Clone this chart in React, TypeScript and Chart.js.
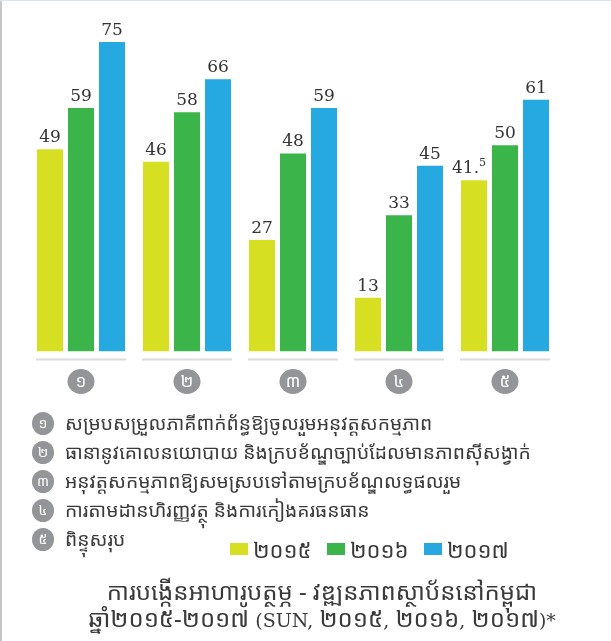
import React, { useEffect, useRef } from "react";
import Chart from "chart.js/auto";

const categories = ["១", "២", "៣", "៤", "៥"];
const years = ["២០១៥", "២០១៦", "២០១៧"];
const values2015 = [49, 46, 27, 13, 41.5];
const values2016 = [59, 58, 48, 33, 50];
const values2017 = [75, 66, 59, 45, 61];
const seriesColors = ["#d7df23", "#3bb54a", "#26a9e0"];
const descriptions = [
  "សម្របសម្រួលភាគីពាក់ព័ន្ធឱ្យចូលរួមអនុវត្តសកម្មភាព",
  "ធានានូវគោលនយោបាយ និងក្របខ័ណ្ឌច្បាប់ដែលមានភាពស៊ីសង្វាក់",
  "អនុវត្តសកម្មភាពឱ្យសមស្របទៅតាមក្របខ័ណ្ឌលទ្ធផលរួម",
  "ការតាមដានហិរញ្ញវត្ថុ និងការកៀងគរធនធាន",
  "ពិន្ទុសរុប",
];
const titleLines = [
  "ការបង្កើនអាហារូបត្ថម្ភ - វឌ្ឍនភាពស្ថាប័ននៅកម្ពុជា",
  "ឆ្នាំ២០១៥-២០១៧ (SUN, ២០១៥, ២០១៦, ២០១៧)*",
];

const KHMER_FONT =
  "'Noto Sans Khmer', 'Khmer OS', 'Khmer OS System', 'Hanuman', 'Battambang', 'DejaVu Sans', sans-serif";
const SERIF_FONT = "'DejaVu Serif', 'Liberation Serif', serif";
const TEXT_COLOR = "#3a3a3a";
const CIRCLE_COLOR = "#939598";

const W = 611;
const H = 641;

function renderMixed(text: string) {
  const parts = text.split(/([A-Za-z(),*]+)/);
  return parts.map((p, i) =>
    /[A-Za-z(),*]/.test(p) ? (
      <span key={i} style={{ fontFamily: SERIF_FONT, fontSize: 19 }}>
        {p}
      </span>
    ) : (
      <span key={i}>{p}</span>
    )
  );
}

export default function App() {
  const canvasRef = useRef<HTMLCanvasElement | null>(null);

  useEffect(() => {
    const canvas = canvasRef.current;
    if (!canvas) return;

    const valueLabels = {
      id: "valueLabels",
      afterDatasetsDraw(chart: any) {
        const ctx = chart.ctx;
        ctx.save();
        ctx.fillStyle = "#333333";
        ctx.textBaseline = "alphabetic";
        chart.data.datasets.forEach((ds: any, di: number) => {
          const meta = chart.getDatasetMeta(di);
          meta.data.forEach((bar: any, i: number) => {
            const v = ds.data[i] as number;
            const x = bar.x;
            const y = bar.y - 7;
            const big = "17px " + SERIF_FONT;
            if (Number.isInteger(v)) {
              ctx.font = big;
              ctx.textAlign = "center";
              ctx.fillText(String(v), x, y);
            } else {
              const parts = String(v).split(".");
              const main = parts[0] + ".";
              const sup = parts[1];
              ctx.font = big;
              const mw = ctx.measureText(main).width;
              ctx.font = "11px " + SERIF_FONT;
              const sw = ctx.measureText(sup).width;
              const start = x - (mw + sw) / 2 - 5;
              ctx.textAlign = "left";
              ctx.font = big;
              ctx.fillText(main, start, y);
              ctx.font = "11px " + SERIF_FONT;
              ctx.fillText(sup, start + mw, y - 7);
            }
          });
        });
        ctx.restore();
      },
    };

    const categoryMarks = {
      id: "categoryMarks",
      afterDraw(chart: any) {
        const ctx = chart.ctx;
        const xs = chart.scales.x;
        ctx.save();
        chart.data.labels.forEach((lab: string, i: number) => {
          const cx = xs.getPixelForValue(i);
          ctx.strokeStyle = "#dcdcdc";
          ctx.lineWidth = 2;
          ctx.beginPath();
          ctx.moveTo(cx - 45, 359.5);
          ctx.lineTo(cx + 45, 359.5);
          ctx.stroke();
          ctx.fillStyle = CIRCLE_COLOR;
          ctx.beginPath();
          ctx.ellipse(cx, 381.5, 13.5, 12.5, 0, 0, Math.PI * 2);
          ctx.fill();
          ctx.fillStyle = "#ffffff";
          ctx.font = "17px " + KHMER_FONT;
          ctx.textAlign = "center";
          ctx.textBaseline = "middle";
          ctx.fillText(lab, cx, 382);
        });
        ctx.restore();
      },
    };

    const chart = new Chart(canvas, {
      type: "bar",
      data: {
        labels: categories,
        datasets: [values2015, values2016, values2017].map((vals, i) => ({
          label: years[i],
          data: vals,
          backgroundColor: seriesColors[i],
          borderWidth: 0,
          categoryPercentage: 0.877,
          barPercentage: 0.84,
        })),
      },
      options: {
        responsive: false,
        animation: false,
        events: [],
        layout: { padding: { left: 28, right: 53, top: 21.4, bottom: H - 351.4 } },
        plugins: {
          legend: { display: false },
          tooltip: { enabled: false },
          title: { display: false },
        },
        scales: {
          x: { display: false, grid: { display: false } },
          y: { display: false, min: 0, max: 80, grid: { display: false } },
        },
      },
      plugins: [valueLabels, categoryMarks],
    });

    return () => chart.destroy();
  }, []);

  return (
    <div
      style={{
        position: "absolute",
        left: 0,
        top: 0,
        width: W,
        height: H,
        background: "#ffffff",
        overflow: "hidden",
      }}
    >
      <canvas
        ref={canvasRef}
        width={W}
        height={H}
        style={{ position: "absolute", left: 0, top: 0, width: W, height: H }}
      />
      <div style={{ position: "absolute", left: 0, top: 0, width: 2, height: H, background: "#c6c6c6" }} />
      <div style={{ position: "absolute", left: 0, top: 0, width: W, height: 1, background: "#dde3ea" }} />
      {descriptions.map((d, i) => (
        <div
          key={i}
          style={{
            position: "absolute",
            left: 32,
            top: 423 + i * 29 - 14,
            height: 28,
            display: "flex",
            alignItems: "center",
            whiteSpace: "nowrap",
          }}
        >
          <div
            style={{
              width: 22,
              height: 23,
              borderRadius: "50%",
              background: CIRCLE_COLOR,
              color: "#fff",
              fontFamily: KHMER_FONT,
              fontSize: 14,
              display: "flex",
              alignItems: "center",
              justifyContent: "center",
              lineHeight: 1,
            }}
          >
            {categories[i]}
          </div>
          <span
            style={{
              marginLeft: 11,
              fontFamily: KHMER_FONT,
              fontSize: 19.3,
              color: TEXT_COLOR,
              lineHeight: "28px",
            }}
          >
            {d}
          </span>
        </div>
      ))}
      {years.map((y, i) => (
        <div
          key={y}
          style={{
            position: "absolute",
            left: 230 + i * 97,
            top: 535,
            height: 28,
            display: "flex",
            alignItems: "center",
            whiteSpace: "nowrap",
          }}
        >
          <div style={{ width: 18, height: 12, background: seriesColors[i] }} />
          <span
            style={{
              marginLeft: 5,
              fontFamily: KHMER_FONT,
              fontSize: 22,
              color: TEXT_COLOR,
              lineHeight: "28px",
            }}
          >
            {y}
          </span>
        </div>
      ))}
      <div
        style={{
          position: "absolute",
          left: 22,
          width: 600,
          top: 577,
          textAlign: "center",
          fontFamily: KHMER_FONT,
          fontSize: 24,
          color: TEXT_COLOR,
          lineHeight: "27px",
        }}
      >
        {titleLines.map((t, i) => (
          <div key={i} style={{ whiteSpace: "nowrap" }}>
            {renderMixed(t)}
          </div>
        ))}
      </div>
    </div>
  );
}
